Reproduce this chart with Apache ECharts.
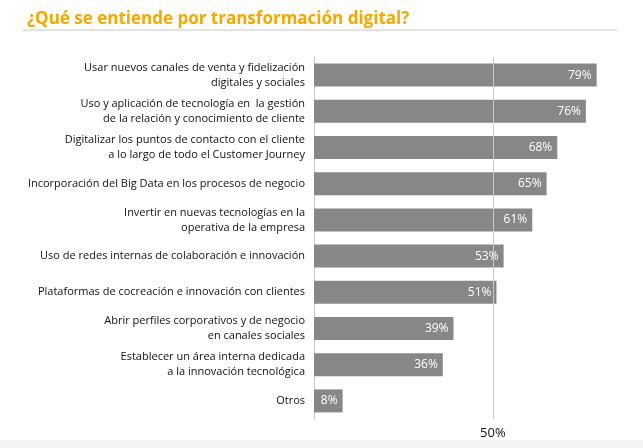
<!DOCTYPE html>
<html>
<head>
<meta charset="utf-8">
<script src="https://cdn.jsdelivr.net/npm/echarts@6/dist/echarts.min.js"></script>
<style>
body{margin:0;background:#fff;}
#main{width:643px;height:448px;position:relative;}
#foot{position:absolute;left:0;top:440px;width:643px;height:8px;background:#f4f4f4;}
</style>
</head>
<body>
<div id="main"></div>
<div id="foot"></div>
<script>
var categories = [
	'Usar nuevos canales de venta y fidelización\ndigitales y sociales',
	'Uso y aplicación de tecnología en  la gestión\nde la relación y conocimiento de cliente',
	'Digitalizar los puntos de contacto con el cliente\na lo largo de todo el Customer Journey',
	'Incorporación del Big Data en los procesos de negocio',
	'Invertir en nuevas tecnologías en la\noperativa de la empresa',
	'Uso de redes internas de colaboración e innovación',
	'Plataformas de cocreación e innovación con clientes',
	'Abrir perfiles corporativos y de negocio\nen canales sociales',
	'Establecer un área interna dedicada\na la innovación tecnológica',
	'Otros'
];
var values = [79, 76, 68, 65, 61, 53, 51, 39, 36, 8];
var refLine = 50;

var myChart = echarts.init(document.getElementById('main'));
var option = {
	animation : false,
	title : {
		text : '¿Qué se entiende por transformación digital?',
		left : 22,
		top : 6,
		textStyle : { color : '#f7a800', fontSize : 17, fontWeight : 'bold', fontFamily : 'Open Sans' }
	},
	graphic : [{
		type : 'line',
		shape : { x1 : 23, y1 : 30, x2 : 617, y2 : 30 },
		style : { stroke : '#c8c8c8', lineWidth : 1 }
	}],
	grid : { left : 314, right : 7, top : 57, bottom : 29 },
	xAxis : {
		type : 'value',
		min : 0,
		max : 90,
		interval : 10,
		axisLine : { show : false },
		axisTick : { show : false },
		splitLine : { show : false },
		axisLabel : {
			margin : 8,
			color : '#111',
			fontSize : 13,
			fontFamily : 'Open Sans',
			formatter : function(v) { return v === refLine ? v + '%' : ''; }
		}
	},
	yAxis : {
		type : 'category',
		inverse : true,
		data : categories,
		axisLine : { lineStyle : { color : '#c8c8c8' } },
		axisTick : { show : false },
		axisLabel : { color : '#111', fontSize : 11, lineHeight : 15, margin : 9, align : 'right', fontFamily : 'Open Sans' }
	},
	series : [{
		type : 'bar',
		data : values,
		barWidth : 23,
		itemStyle : { color : '#878787' },
		label : {
			show : true,
			position : 'insideRight',
			formatter : '{c}%',
			color : '#fff',
			fontSize : 12,
			distance : 5,
			fontFamily : 'Open Sans'
		},
		markLine : {
			silent : true,
			symbol : 'none',
			label : { show : false },
			lineStyle : { color : '#c8c8c8', type : 'solid', width : 1 },
			data : [{ xAxis : refLine }]
		},
		z : 3
	}]
};
myChart.setOption(option, true);
</script>
</body>
</html>
